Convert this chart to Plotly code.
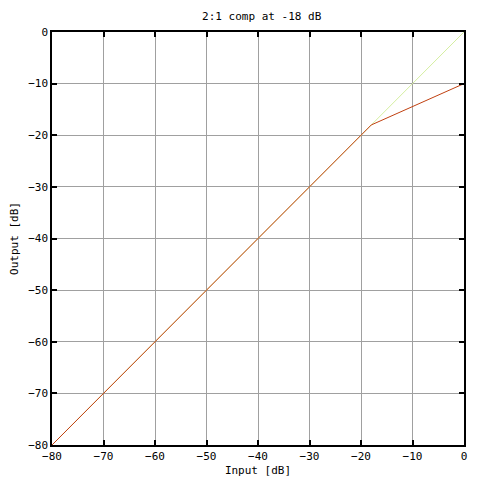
import plotly.graph_objects as go

# transfer curve of the compressor (input dB -> output dB)
curve_in = [-80, -18, 0]
curve_out = [-80, -18, -10]

# unity reference line
unity_in = [-80, 0]
unity_out = [-80, 0]

tick_vals = [-80, -70, -60, -50, -40, -30, -20, -10, 0]

font = dict(family="DejaVu Sans Mono", size=11, color="black")

fig = go.Figure()
fig.add_trace(go.Scatter(
    x=unity_in, y=unity_out,
    mode="lines",
    line=dict(color="#d4eea0", width=1),
    hoverinfo="none"
))
fig.add_trace(go.Scatter(
    x=curve_in, y=curve_out,
    mode="lines",
    line=dict(color="#c04010", width=1),
    hoverinfo="none"
))

axis_common = dict(
    tickvals=tick_vals,
    showgrid=True, gridcolor="#a0a0a0", gridwidth=1,
    zeroline=False, automargin=False,
    showline=True, linecolor="black", linewidth=1.5, mirror="ticks",
    ticks="inside", ticklen=5, tickcolor="black", tickwidth=1.5,
    tickfont=font,
)

# page body has an 8px margin, so the figure is a bit smaller than the window
fig.update_layout(
    width=472, height=472,
    showlegend=False,
    plot_bgcolor="white", paper_bgcolor="white",
    margin=dict(l=44, r=16, t=24, b=35, autoexpand=False),
    title=dict(text="2:1 comp at -18 dB", x=0.5375, xanchor="center",
               y=0.983, yanchor="middle", font=font),
    xaxis=dict(range=[-80, 0], title=dict(text="Input [dB]", font=font, standoff=4),
               **axis_common),
    yaxis=dict(range=[-80, 0], title=dict(text="Output [dB]", font=font, standoff=10),
               **axis_common),
)

fig.write_html("out.html")
